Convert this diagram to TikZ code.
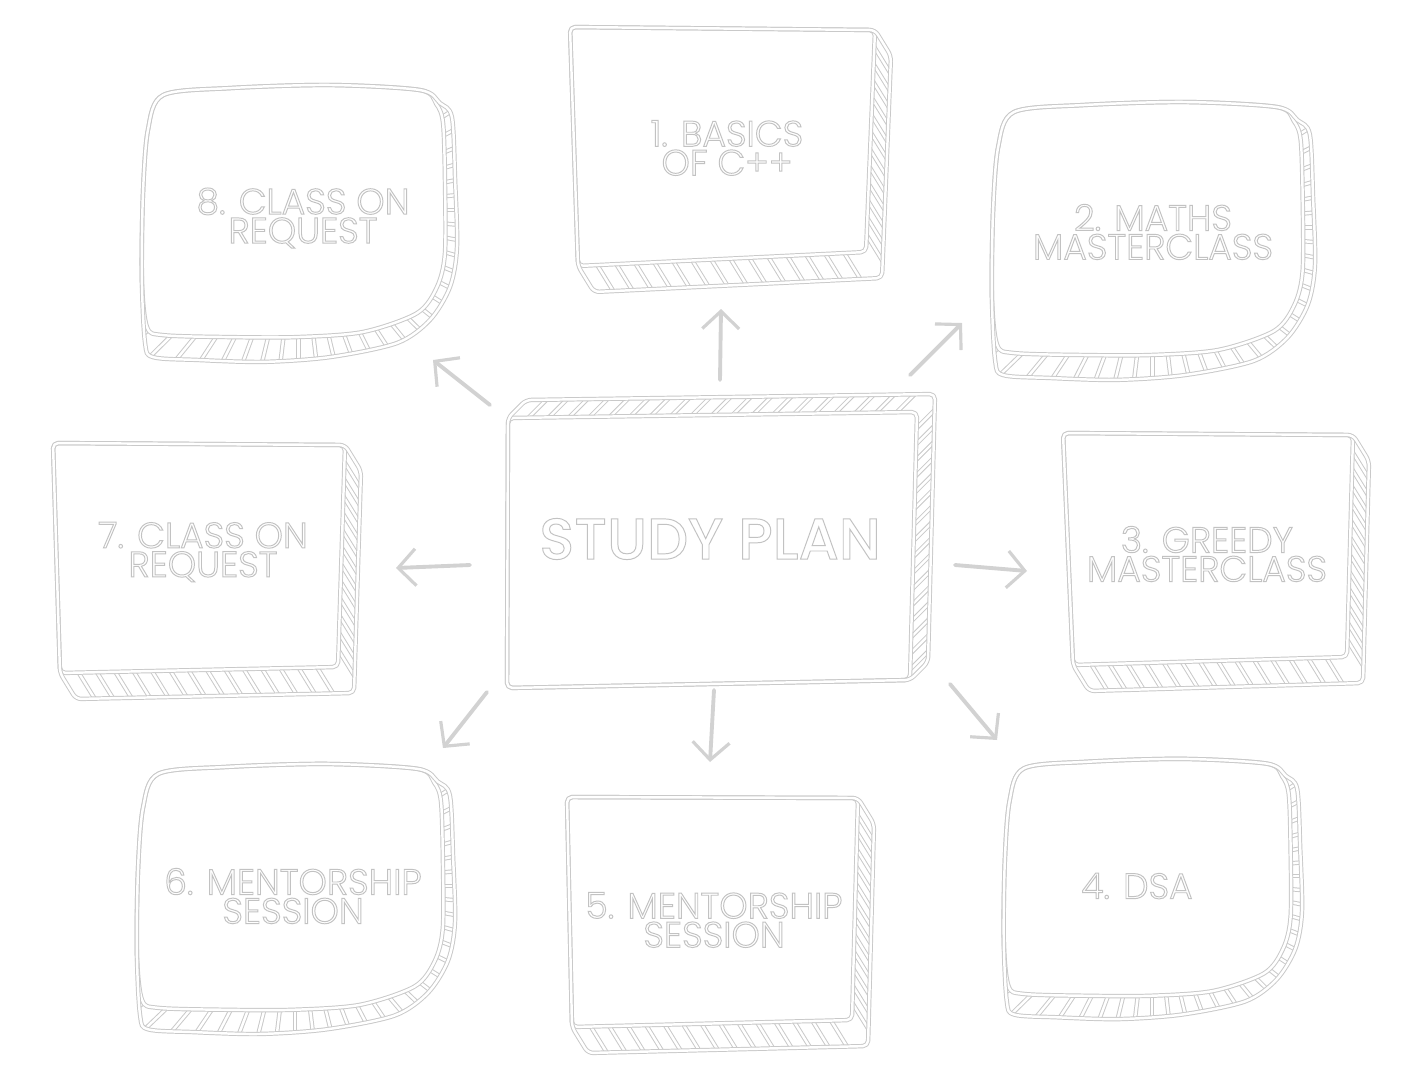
\documentclass[tikz,border=0pt]{standalone}
\usepackage{fontspec}
\setmainfont{Poppins}
\newfontfamily\lblfont{Poppins Light}
\newfontfamily\ttlfont{Poppins Medium}
\usetikzlibrary{calc,arrows.meta}

\definecolor{linec}{HTML}{C9C9C9}
\definecolor{textc}{HTML}{C2C2C2}
\definecolor{arrowc}{HTML}{D2D2D2}

% hollow lettering: glyphs are stroked, not filled
\newcommand\hollow[1]{\special{pdf:literal direct 0.55 w 1 Tr}#1\special{pdf:literal direct 0 Tr}}

\tikzset{
  dbl/.style={draw=linec, line width=0.55pt, double=white, double distance=1.4pt,
              line join=round, line cap=round},
  rim/.style={dbl, rounded corners=3pt},
  face/.style={rim, fill=white},
  softface/.style={dbl, fill=white},
  link/.style={draw=arrowc, line width=2.2pt, line cap=round,
               -{Straight Barb[length=10pt,width=21pt,line width=1.8pt]}},
  lbl/.style={text=textc, align=center, font=\fontsize{20.5}{16.5}\lblfont},
  ttl/.style={text=textc, font=\fontsize{33}{32}\ttlfont},
}

% outer outline and front face of the rounded slabs (unit square, y down)
\def\pilloutline{(0.073,0.043) (0.284,0.018) (0.599,0.007) (0.883,0.025) (0.946,0.071)
  (0.984,0.121) (0.994,0.344) (1.0,0.582) (0.978,0.723) (0.915,0.84) (0.811,0.922)
  (0.599,0.972) (0.388,0.989) (0.18,0.982) (0.041,0.972) (0.016,0.922)
  (0.006,0.699) (0.009,0.404) (0.025,0.167)}
\def\pillface{(0.073,0.043) (0.284,0.018) (0.599,0.007) (0.883,0.025) (0.935,0.075)
  (0.956,0.142) (0.962,0.344) (0.962,0.603) (0.937,0.723) (0.874,0.816) (0.703,0.883)
  (0.495,0.901) (0.284,0.901) (0.073,0.894) (0.022,0.865)
  (0.006,0.699) (0.009,0.404) (0.025,0.167)}

% rounded slab: left, top, width, height
\newcommand\pillowbox[4]{%
  \begin{scope}[shift={(#1,#2)}, xscale=#3, yscale=#4]
    \begin{scope}
      \clip plot[smooth cycle] coordinates {\pilloutline};
      \foreach \a in {-36,-30,...,140} \draw[dbl] (0.5,0.45) -- ++(\a:1);
    \end{scope}
    \path[softface] plot[smooth cycle] coordinates {\pillface};
    \path[dbl] plot[smooth cycle] coordinates {\pilloutline};
  \end{scope}}

% flat slab with hatched right and bottom edges: TL, TR, BR, BL corners of the face
\newcommand\slabbox[8]{%
  \coordinate (tl) at (#1,#2); \coordinate (tr) at (#3,#4);
  \coordinate (br) at (#5,#6); \coordinate (bl) at (#7,#8);
  \begin{scope}
    \clip (tl) -- (tr) -- ($(tr)+(16,26)$) -- ($(br)+(16,26)$) -- ($(bl)+(16,26)$) -- (bl) -- cycle;
    \foreach \t in {0.077,0.154,...,0.93} \draw[dbl] ($(tr)!\t!(br)+(-8,-13)$) -- ++(32,52);
    \foreach \t in {0.067,0.133,...,0.94} \draw[dbl] ($(bl)!\t!(br)+(-8,-13)$) -- ++(32,52);
  \end{scope}
  \path[face] (tl) -- (tr) -- (br) -- (bl) -- cycle;
  \path[rim] (tl) -- (tr) -- ($(tr)+(16,26)$) -- ($(br)+(16,26)$) -- ($(bl)+(16,26)$) -- (bl) -- cycle;}

\begin{document}
\begin{tikzpicture}[x=0.02cm, y=-0.02cm]
  \fill[white] (0,0) rectangle (1407,1080);
  \useasboundingbox (0,0) rectangle (1407,1080);

  % central slab, hatched on top and right
  \coordinate (ctl) at (508,418); \coordinate (ctr) at (917,412);
  \coordinate (cbr) at (910,680); \coordinate (cbl) at (507,688);
  \begin{scope}
    \clip (ctl) -- ($(ctl)+(18,-18)$) -- ($(ctr)+(18,-18)$) -- ($(cbr)+(18,-18)$) -- (cbr) -- (cbl) -- cycle;
    \foreach \t in {0.05,0.1,...,0.96} \draw[dbl] ($(ctl)!\t!(ctr)+(-9,9)$) -- ++(36,-36);
    \foreach \t in {0.06,0.12,...,0.97} \draw[dbl] ($(ctr)!\t!(cbr)+(-9,9)$) -- ++(36,-36);
  \end{scope}
  \path[face] (ctl) -- (ctr) -- (cbr) -- (cbl) -- cycle;
  \path[rim] (ctl) -- ($(ctl)+(18,-18)$) -- ($(ctr)+(18,-18)$) -- ($(cbr)+(18,-18)$) -- (cbr) -- (cbl) -- cycle;

  % flat slabs
  \slabbox{570}{27}{875}{30}{866}{252}{578}{266}
  \slabbox{1063}{433}{1353}{435}{1347}{657}{1073}{665}
  \slabbox{567}{797}{858}{798}{852}{1020}{572}{1027}
  \slabbox{53}{443}{345}{445}{338}{667}{60}{673}

  % rounded slabs
  \pillowbox{140}{83}{317}{282}
  \pillowbox{990}{100}{325}{283}
  \pillowbox{135}{762}{320}{275}
  \pillowbox{1002}{757}{300}{265}

  % labels
  \node[ttl] (plan) at (710,539) {\hollow{STUDY PLAN}};
  \node[lbl] (s1) at (727,148) {\hollow{1. BASICS}\\\hollow{OF C++}};
  \node[lbl] (s2) at (1153,232) {\hollow{2. MATHS}\\\hollow{MASTERCLASS}};
  \node[lbl] (s3) at (1207,554) {\hollow{3. GREEDY}\\\hollow{MASTERCLASS}};
  \node[lbl] (s4) at (1137,886) {\hollow{4. DSA}};
  \node[lbl] (s5) at (714,920) {\hollow{5. MENTORSHIP}\\\hollow{SESSION}};
  \node[lbl] (s6) at (293,896) {\hollow{6. MENTORSHIP}\\\hollow{SESSION}};
  \node[lbl] (s7) at (203,552) {\hollow{7. CLASS ON}\\\hollow{REQUEST}};
  \node[lbl] (s8) at (303,218) {\hollow{8. CLASS ON}\\\hollow{REQUEST}};

  % arrows radiating from the centre
  \coordinate (au0) at (720,380);  \coordinate (au1) at (721,309);
  \coordinate (aur0) at (910,375); \coordinate (aur1) at (962,323);
  \coordinate (ar0) at (955,565);  \coordinate (ar1) at (1027,571);
  \coordinate (adr0) at (950,684); \coordinate (adr1) at (997,740);
  \coordinate (ad0) at (714,690);  \coordinate (ad1) at (710,762);
  \coordinate (adl0) at (487,692); \coordinate (adl1) at (443,748);
  \coordinate (al0) at (470,565);  \coordinate (al1) at (396,568);
  \coordinate (aul0) at (490,405); \coordinate (aul1) at (433,360);
  \draw[link] (au0) -- (au1);
  \draw[link] (aur0) -- (aur1);
  \draw[link] (ar0) -- (ar1);
  \draw[link] (adr0) -- (adr1);
  \draw[link] (ad0) -- (ad1);
  \draw[link] (adl0) -- (adl1);
  \draw[link] (al0) -- (al1);
  \draw[link] (aul0) -- (aul1);
\end{tikzpicture}
\end{document}
